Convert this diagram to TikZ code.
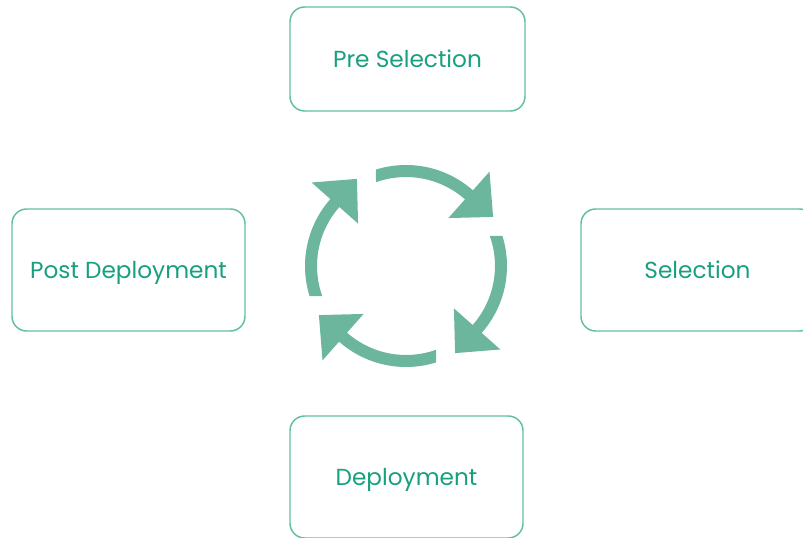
\documentclass[tikz,border=0pt]{standalone}
\usepackage{fontspec}
\setmainfont{Poppins}
\usepackage{tikz}
\usetikzlibrary{positioning}
\usepackage{xcolor}
\definecolor{boxline}{HTML}{62BFA2}
\definecolor{boxtext}{HTML}{16A07E}
\definecolor{cyclefill}{HTML}{6BB69C}

\begin{document}
\begin{tikzpicture}[x=0.75pt, y=-0.75pt,
        every node/.style={align=center},
        phase/.style={draw=boxline, line width=1.1pt, rounded corners=11pt,
            minimum width=#1*0.75pt, minimum height=122*0.75pt, text depth=0pt,
            text=boxtext, font=\fontsize{17.4}{20}\selectfont},
        phase/.default=233,
        cyclearrow/.style={fill=cyclefill, draw=none}]

    \clip (0,0) rectangle (803,538);

    % four phases round the cycle
    \node[phase=235, minimum height=104*0.75pt] (presel)  at (407.5, 59)  {Pre Selection};
    \node[phase]                                 (sel)     at (697.5, 270) {Selection};
    \node[phase]                                 (deploy)  at (406.5, 477) {Deployment};
    \node[phase]                                 (postdep) at (128.5, 270) {Post Deployment};

    % cycle symbol in the middle
    \coordinate (hub) at (406, 266);
    \begin{scope}[shift={(hub)}, yscale=-1]
        \foreach \rot in {0,-90,-180,-270} {
            \begin{scope}[rotate=\rot]
                \fill[cyclearrow] (107.3:101) arc[start angle=107.3, end angle=48.5, radius=101]
                    -- (48.5:126) -- (29.4:100) -- (48.5:64) -- (48.5:89)
                    arc[start angle=48.5, end angle=109.7, radius=89] -- cycle;
            \end{scope}
        }
    \end{scope}
\end{tikzpicture}
\end{document}
